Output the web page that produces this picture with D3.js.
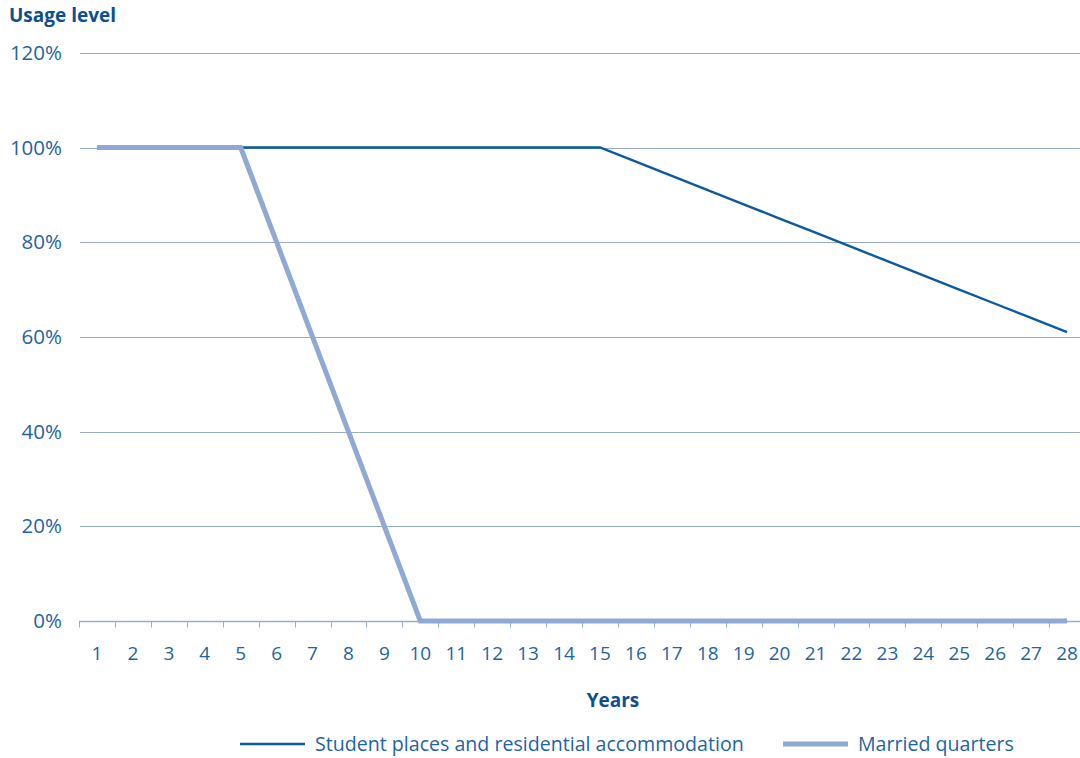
<!DOCTYPE html>
<html>
<head>
<meta charset="utf-8">
<script src="https://cdn.jsdelivr.net/npm/d3@7"></script>
<style>
  html, body { margin: 0; padding: 0; background: #fff; }
  svg { display: block; font-family: "Open Sans", "Lato", sans-serif; }
</style>
</head>
<body>
<svg id="chart" width="1080" height="758"></svg>
<script>
// Years along the horizontal axis
const years = d3.range(1, 29);
// Usage level (%) for each year
const studentPlaces = [100, 100, 100, 100, 100, 100, 100, 100, 100, 100, 100, 100, 100, 100, 100,
                       97, 94, 91, 88, 85, 82, 79, 76, 73, 70, 67, 64, 61];
const marriedQuarters = [100, 100, 100, 100, 100, 80, 60, 40, 20, 0, 0, 0, 0, 0,
                         0, 0, 0, 0, 0, 0, 0, 0, 0, 0, 0, 0, 0, 0];
const yTicks = [0, 20, 40, 60, 80, 100, 120];
const seriesNames = ["Student places and residential accommodation", "Married quarters"];

const svg = d3.select("#chart");
const textColor = "#1f64a3";
const gridColor = "#98acd2";

const x = d3.scaleBand().domain(years).range([79, 1085]);
const y = d3.scaleLinear().domain([0, 100]).range([621, 147.5]);

// Horizontal gridlines
svg.append("g")
  .selectAll("line")
  .data(yTicks.filter(d => d > 0))
  .join("line")
  .attr("x1", 80).attr("x2", 1080)
  .attr("y1", d => Math.round(y(d)) + 0.5).attr("y2", d => Math.round(y(d)) + 0.5)
  .attr("stroke", gridColor).attr("stroke-width", 1);

// Y axis labels
svg.append("g")
  .selectAll("text")
  .data(yTicks)
  .join("text")
  .attr("x", 62)
  .attr("y", d => y(d) + 7)
  .attr("text-anchor", "end")
  .attr("fill", textColor)
  .attr("font-size", 20.5)
  .text(d => d + "%");

// X axis with category ticks at band boundaries
const xAxis = svg.append("g").attr("transform", "translate(0," + (Math.round(y(0)) + 0.5) + ")");
xAxis.append("line")
  .attr("x1", 79).attr("x2", 1080)
  .attr("stroke", gridColor).attr("stroke-width", 1.5);
xAxis.selectAll("line.tick")
  .data(years)
  .join("line")
  .attr("class", "tick")
  .attr("x1", d => Math.round(x(d)) + 0.5).attr("x2", d => Math.round(x(d)) + 0.5)
  .attr("y1", 0).attr("y2", 6)
  .attr("stroke", gridColor).attr("stroke-width", 1);
xAxis.selectAll("text")
  .data(years)
  .join("text")
  .attr("x", d => x(d) + x.bandwidth() / 2)
  .attr("y", 38)
  .attr("text-anchor", "middle")
  .attr("fill", textColor)
  .attr("font-size", 19)
  .text(d => d);

// Series lines (the thin line sits beneath the thick one)
const line = d3.line()
  .x((d, i) => x(years[i]) + x.bandwidth() / 2)
  .y(d => y(d));

svg.append("path")
  .datum(studentPlaces)
  .attr("d", line)
  .attr("fill", "none")
  .attr("stroke", "#0b5aa0")
  .attr("stroke-width", 2.4);

svg.append("path")
  .datum(marriedQuarters)
  .attr("d", line)
  .attr("fill", "none")
  .attr("stroke", "#8fa9d4")
  .attr("stroke-width", 5)
  .attr("stroke-linejoin", "miter");

// Titles
svg.append("text")
  .attr("x", 9).attr("y", 22)
  .attr("fill", "#0d4f8e")
  .attr("font-size", 19).attr("font-weight", "bold")
  .text("Usage level");

svg.append("text")
  .attr("x", 613).attr("y", 707)
  .attr("text-anchor", "middle")
  .attr("fill", "#0d4f8e")
  .attr("font-size", 19).attr("font-weight", "bold")
  .text("Years");

// Legend
const legend = [
  { name: seriesNames[0], x: 240, color: "#0b5aa0", width: 2.4 },
  { name: seriesNames[1], x: 783, color: "#8fa9d4", width: 5 }
];
const lg = svg.append("g").selectAll("g").data(legend).join("g")
  .attr("transform", d => "translate(" + d.x + ",744)");
lg.append("line")
  .attr("x1", 0).attr("x2", 65)
  .attr("stroke", d => d.color).attr("stroke-width", d => d.width);
lg.append("text")
  .attr("x", 75).attr("y", 7)
  .attr("fill", textColor)
  .attr("font-size", 19.6)
  .text(d => d.name);
</script>
</body>
</html>
